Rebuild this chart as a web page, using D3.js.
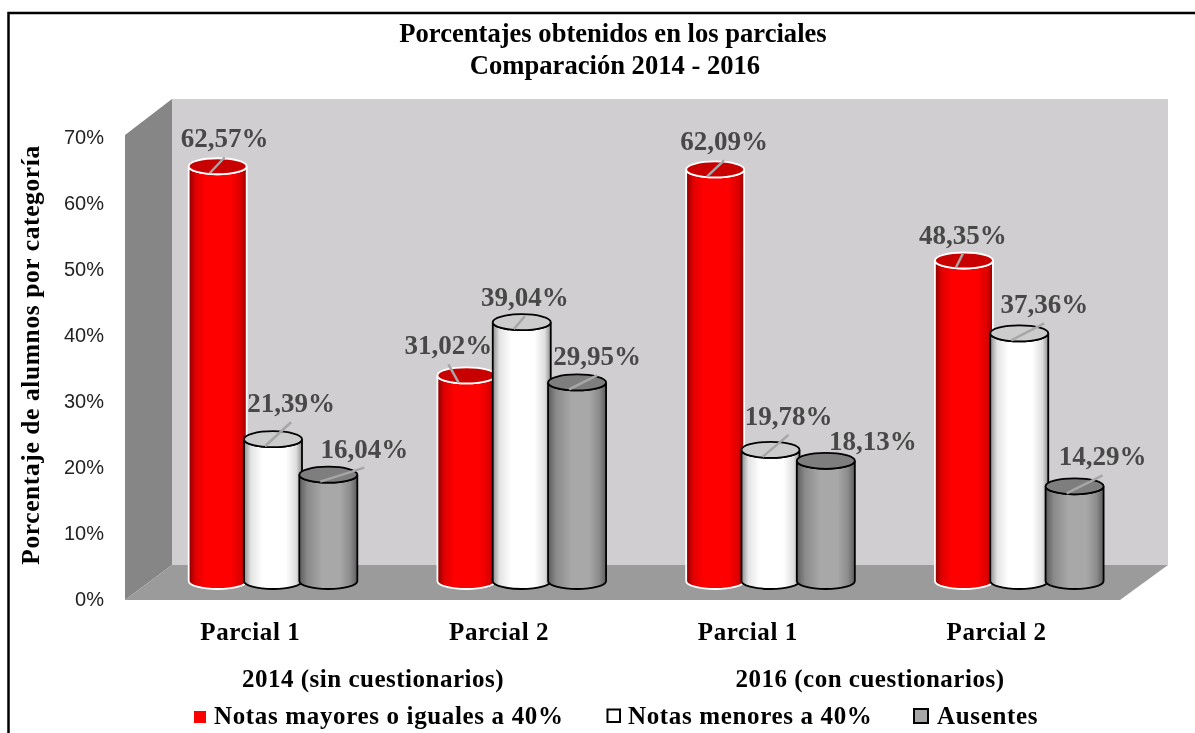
<!DOCTYPE html>
<html lang="en">
<head>
<meta charset="utf-8">
<title>Porcentajes obtenidos en los parciales</title>
<script src="https://d3js.org/d3.v7.min.js"></script>
<style>
html, body { margin: 0; padding: 0; background: #fff; overflow: hidden; }
svg { display: block; filter: blur(0.45px); }
text { font-family: "Liberation Serif", serif; font-weight: bold; }
</style>
</head>
<body>
<div id="chart"></div>
<script>
// data
const parciales = ["2014 P1", "2014 P2", "2016 P1", "2016 P2"];
const parcialLabels = ["Parcial 1", "Parcial 2", "Parcial 1", "Parcial 2"];
const anios = ["2014 (sin cuestionarios)", "2016 (con cuestionarios)"];
const seriesNames = ["Notas mayores o iguales a 40%", "Notas menores a 40%", "Ausentes"];
const mayores = [62.57, 31.02, 62.09, 48.35];
const menores = [21.39, 39.04, 19.78, 37.36];
const ausentes = [16.04, 29.95, 18.13, 14.29];
const yTicks = [0, 10, 20, 30, 40, 50, 60, 70];

// label placement relative to the cylinder top, [dx, dy] per group, one row per series
const offMayores = [[7, -28], [-18, -30], [9, -28], [-1, -26]];
const offMenores = [[18, -36], [3, -25], [18, -34], [25, -29]];
const offAusentes = [[36, -26], [20, -26], [47, -20], [28, -30]];
// 18,13% has no leader line in the original
const noLeader = [[], [], [2]];

const w = 1195, h = 733;

const svg = d3.select("#chart").append("svg")
  .attr("width", w)
  .attr("height", h);

// frame: only left and top are visible, the rest is cropped
svg.append("path")
  .attr("d", "M8.5,740 L8.5,13 L1195,13")
  .attr("fill", "none")
  .attr("stroke", "#000")
  .attr("stroke-width", 2.5);

// scales
const x0 = d3.scaleBand().domain(parciales).range([190, 1185]);
const x1 = d3.scaleBand().domain(seriesNames).range([0, 166]);
const yBar = d3.scaleLinear().domain([0, 70]).range([581, 117]);
const yAxisScale = d3.scaleLinear().domain([0, 70]).range([599, 137]);

const rx = 29, ry = 8;
const barX = (p, name) => x0(p) + x1(name) + x1.bandwidth() / 2;

// 3d box
svg.append("polygon").attr("points", "172,99 1168,99 1168,565 172,565").attr("fill", "#d0ced0");
svg.append("polygon").attr("points", "125,135 172,99 172,565 125,600").attr("fill", "#868686");
svg.append("polygon").attr("points", "172,565 1168,565 1120,600 125,600").attr("fill", "#9b9b9b");

// gradients for the cylinder sides
const defs = svg.append("defs");
const grads = [
  { id: "gr-red", stops: [["0%", "#8c0000"], ["12%", "#e00000"], ["30%", "#ff0000"], ["72%", "#ff0000"], ["90%", "#dc0000"], ["100%", "#900000"]], top: "#c80000", stroke: "#fff" },
  { id: "gr-white", stops: [["0%", "#8e8e8e"], ["12%", "#e4e4e4"], ["32%", "#ffffff"], ["72%", "#ffffff"], ["90%", "#dedede"], ["100%", "#8e8e8e"]], top: "#cccccc", stroke: "#000" },
  { id: "gr-gray", stops: [["0%", "#5c5c5c"], ["14%", "#8a8a8a"], ["40%", "#a8a8a8"], ["70%", "#a8a8a8"], ["88%", "#8c8c8c"], ["100%", "#5c5c5c"]], top: "#7e7e7e", stroke: "#000" }
];
grads.forEach(g => {
  const lg = defs.append("linearGradient").attr("id", g.id);
  g.stops.forEach(s => lg.append("stop").attr("offset", s[0]).attr("stop-color", s[1]));
});

// y axis
const yAxis = d3.axisLeft(yAxisScale)
  .tickValues(yTicks)
  .tickSize(0)
  .tickPadding(0)
  .tickFormat(d => d + "%");
const gy = svg.append("g").attr("transform", "translate(104,0)").call(yAxis);
gy.select(".domain").remove();
gy.selectAll("text")
  .style("font-family", '"Liberation Sans", sans-serif')
  .style("font-weight", "normal")
  .attr("font-size", 20)
  .attr("fill", "#222");

// cylinders, left to right so each one overlaps the previous
const seriesValues = [mayores, menores, ausentes];
const seriesOffsets = [offMayores, offMenores, offAusentes];
parciales.forEach((p, i) => {
  seriesNames.forEach((name, s) => {
    const style = grads[s];
    const cx = barX(p, name);
    const top = yBar(seriesValues[s][i]), bottom = yBar(0);
    svg.append("path")
      .attr("d", `M${cx - rx},${top} L${cx - rx},${bottom} A${rx},${ry} 0 0 0 ${cx + rx},${bottom} L${cx + rx},${top} A${rx},${ry} 0 0 1 ${cx - rx},${top} Z`)
      .attr("fill", `url(#${style.id})`)
      .attr("stroke", style.stroke)
      .attr("stroke-width", 1.8);
    svg.append("ellipse")
      .attr("cx", cx).attr("cy", top)
      .attr("rx", rx).attr("ry", ry)
      .attr("fill", style.top)
      .attr("stroke", style.stroke)
      .attr("stroke-width", 1.8);
  });
});

// data labels and leader lines go on top of everything
const labels = svg.append("g");
parciales.forEach((p, i) => {
  seriesNames.forEach((name, s) => {
    const v = seriesValues[s][i];
    const cx = barX(p, name);
    const top = yBar(v);
    const off = seriesOffsets[s][i];
    const lx = cx + off[0], ly = top + off[1];
    if (!noLeader[s].includes(i)) {
      labels.append("line")
        .attr("x1", cx - 8).attr("y1", top + 7)
        .attr("x2", lx).attr("y2", ly + 19)
        .attr("stroke", "#a6a6a6")
        .attr("stroke-width", 2.5);
    }
    labels.append("text")
      .attr("x", lx).attr("y", ly + 9)
      .attr("text-anchor", "middle")
      .attr("font-size", 27)
      .attr("fill", "#484848")
      .text(v.toFixed(2).replace(".", ",") + "%");
  });
});

// category labels
const cats = svg.append("g");
parcialLabels.forEach((t, i) => {
  cats.append("text")
    .attr("x", x0(parciales[i]) + x0.bandwidth() / 2 - 64)
    .attr("y", 640)
    .attr("text-anchor", "middle")
    .attr("font-size", 25)
    .attr("letter-spacing", 0.6)
    .text(t);
});
[373, 870].forEach((cx, i) => {
  cats.append("text")
    .attr("x", cx).attr("y", 687)
    .attr("text-anchor", "middle")
    .attr("font-size", 25)
    .attr("letter-spacing", 0.5)
    .text(anios[i]);
});

// title
const title = svg.append("g").attr("text-anchor", "middle").attr("font-size", 26.6);
title.append("text").attr("x", 613).attr("y", 42).text("Porcentajes obtenidos en los parciales");
title.append("text").attr("x", 615).attr("y", 74).text("Comparación 2014 - 2016");

// y axis title
svg.append("text")
  .attr("transform", "translate(39,355) rotate(-90)")
  .attr("text-anchor", "middle")
  .attr("font-size", 25.5)
  .attr("letter-spacing", 0.6)
  .text("Porcentaje de alumnos por categoría");

// legend
const legendBox = [[194, 711, 12, 0], [607.5, 709.5, 12.5, 2], [914, 709, 14, 2]];
const legendFill = ["#ff0000", "#ffffff", "#a6a6a6"];
const legendTextX = [214, 628, 937];
seriesNames.forEach((name, s) => {
  svg.append("rect")
    .attr("x", legendBox[s][0]).attr("y", legendBox[s][1])
    .attr("width", legendBox[s][2]).attr("height", legendBox[s][2])
    .attr("fill", legendFill[s])
    .attr("stroke", "#000")
    .attr("stroke-width", legendBox[s][3]);
  svg.append("text")
    .attr("x", legendTextX[s]).attr("y", 724)
    .attr("font-size", 25)
    .attr("letter-spacing", 0.65)
    .text(name);
});
</script>
</body>
</html>
